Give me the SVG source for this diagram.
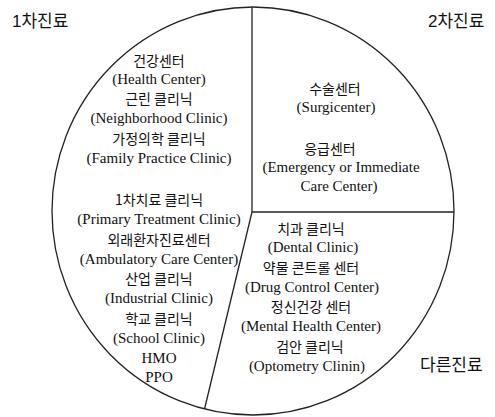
<svg xmlns="http://www.w3.org/2000/svg" width="495" height="417" viewBox="0 0 495 417">
<style>
.b{font-family:'Liberation Serif','Noto Sans CJK KR',serif;font-size:15px;fill:#111;text-anchor:middle;dominant-baseline:central}
.k{font-family:'Noto Sans CJK KR','Liberation Serif',sans-serif;font-size:14px;fill:#111;text-anchor:middle;dominant-baseline:central}
.h{font-family:'Liberation Sans','Noto Sans CJK KR',sans-serif;font-size:17px;fill:#111;dominant-baseline:central}
.ln{stroke:#222;stroke-width:1.3;fill:none}
</style>
<rect width="495" height="417" fill="#fff"/>
<g id="circle"><ellipse class="ln" cx="253" cy="211" rx="201" ry="204"/></g>
<g id="connectors">
<line class="ln" x1="252" y1="7" x2="252" y2="212" stroke="#444" stroke-width="1.6"/>
<line class="ln" x1="252" y1="212" x2="454" y2="212"/>
<line class="ln" x1="252" y1="212" x2="204.5" y2="409"/>
</g>
<g id="primary">
<text class="h" x="12" y="21">1차진료</text>
<text class="k" x="159" y="60">건강센터</text>
<text class="b" x="159" y="79">(Health Center)</text>
<text class="k" x="159" y="98">근린 클리닉</text>
<text class="b" x="159" y="118">(Neighborhood Clinic)</text>
<text class="k" x="159" y="138">가정의학 클리닉</text>
<text class="b" x="159" y="158">(Family Practice Clinic)</text>
<text class="k" x="159" y="199">1차치료 클리닉</text>
<text class="b" x="159" y="219">(Primary Treatment Clinic)</text>
<text class="k" x="159" y="239">외래환자진료센터</text>
<text class="b" x="159" y="259">(Ambulatory Care Center)</text>
<text class="k" x="159" y="278">산업 클리닉</text>
<text class="b" x="159" y="298">(Industrial Clinic)</text>
<text class="k" x="159" y="318">학교 클리닉</text>
<text class="b" x="159" y="338">(School Clinic)</text>
<text class="b" x="159" y="358">HMO</text>
<text class="b" x="159" y="377">PPO</text>
</g>
<g id="secondary">
<text class="h" x="428" y="21">2차진료</text>
<text class="k" x="335" y="88">수술센터</text>
<text class="b" x="336" y="107">(Surgicenter)</text>
<text class="k" x="330" y="148">응급센터</text>
<text class="b" x="341" y="167">(Emergency or Immediate</text>
<text class="b" x="339" y="186">Care Center)</text>
</g>
<g id="other">
<text class="h" x="420" y="365">다른진료</text>
<text class="k" x="311" y="228">치과 클리닉</text>
<text class="b" x="313" y="247">(Dental Clinic)</text>
<text class="k" x="311" y="267">약물 콘트롤 센터</text>
<text class="b" x="312" y="287">(Drug Control Center)</text>
<text class="k" x="311" y="306">정신건강 센터</text>
<text class="b" x="311" y="326">(Mental Health Center)</text>
<text class="k" x="310" y="346">검안 클리닉</text>
<text class="b" x="307" y="366">(Optometry Clinin)</text>
</g>
</svg>
